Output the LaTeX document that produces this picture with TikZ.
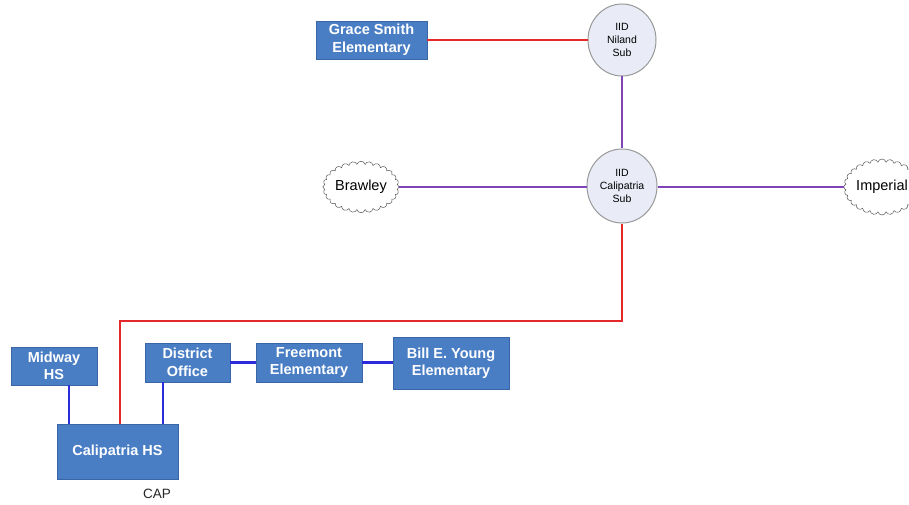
\documentclass[tikz,border=0pt]{standalone}
\usepackage{fontspec}
\setmainfont{Liberation Sans}
\usetikzlibrary{shapes.symbols,shapes.geometric}
\definecolor{boxblue}{HTML}{4A7EC4}
\definecolor{boxedge}{HTML}{3A66A8}
\definecolor{subfill}{HTML}{E9ECF6}
\definecolor{redline}{HTML}{E5282A}
\definecolor{purpline}{HTML}{7E44B8}
\definecolor{blueline}{HTML}{2B2BDB}
\tikzset{
  school/.style={draw=boxedge, line width=0.8pt, fill=boxblue, text=white, font=\bfseries\fontsize{14.5}{17.5}\selectfont, align=center, inner sep=0pt},
  sub/.style={ellipse, draw=gray!80, line width=1pt, fill=subfill, font=\fontsize{10.5}{13}\selectfont, align=center, inner sep=0pt},
  town/.style={cloud, cloud puffs=28, cloud puff arc=150, aspect=1.6, draw=gray!70!black, line width=0.5pt, fill=white, font=\fontsize{14.5}{17}\selectfont, inner sep=0pt},
  redl/.style={draw=redline, line width=2pt},
  purl/.style={draw=purpline, line width=2.4pt},
  bluel/.style={draw=blueline, line width=2.2pt}
}
\begin{document}
\begin{tikzpicture}[x=1pt,y=-1pt]
\useasboundingbox (0,0) rectangle (909,505);
\clip (0,0) rectangle (909,505);
\fill[white] (0,0) rectangle (909,505);
% substations
\node[sub, minimum width=68pt, minimum height=72pt] (niland) at (622,40) {IID\\Niland\\Sub};
\node[sub, minimum width=70pt, minimum height=74pt] (calsub) at (622,186) {IID\\Calipatria\\Sub};
% towns
\node[town, minimum width=76pt, minimum height=50pt] (brawley) at (361,187) {Brawley};
\node[town, minimum width=74pt, minimum height=56pt] (imperial) at (882,187) {Imperial};
% schools
\node[school, minimum width=111pt, minimum height=38pt] (grace) at (371.5,40) {Grace Smith\\Elementary};
\node[school, minimum width=86pt, minimum height=38pt] (midway) at (54,366) {Midway\\HS};
\node[school, minimum width=85pt, minimum height=39pt] (district) at (187.5,362.5) {District\\Office};
\node[school, minimum width=106pt, minimum height=39pt] (freemont) at (309,362.5) {Freemont\\Elementary};
\node[school, minimum width=116pt, minimum height=52pt] (bill) at (451,363) {Bill E. Young\\Elementary};
\node[school, minimum width=121pt, minimum height=55pt] (calhs) at (117.5,451.5) {Calipatria HS};
\node[font=\fontsize{13.5}{16}\selectfont, text=black!85] (cap) at (157,494) {CAP};
% coordinates
\coordinate (rtop) at (120,321);
% connectors
\draw[redl] (niland.west) -- (grace.east);
\draw[purl] (niland.south) -- (calsub.north);
\draw[purl] (brawley.east) -- (brawley.east -| calsub.west);
\draw[purl] (imperial.west -| calsub.east) -- (imperial.west);
\draw[redl] (calsub.south) |- (rtop) -- (rtop |- calhs.north);
\draw[bluel] ([xshift=15pt]midway.south) -- ([xshift=15pt]midway.south |- calhs.north);
\draw[bluel] ([xshift=-24.5pt]district.south) -- ([xshift=-24.5pt]district.south |- calhs.north);
\draw[bluel] (district.east) -- (freemont.west);
\draw[bluel] (freemont.east) -- (freemont.east -| bill.west);
\end{tikzpicture}
\end{document}
